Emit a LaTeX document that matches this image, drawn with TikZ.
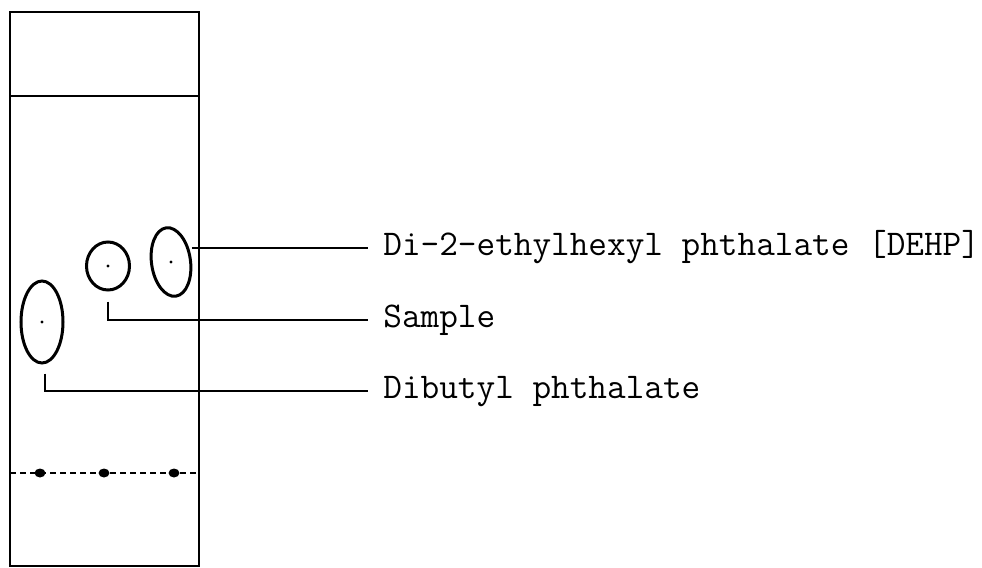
\documentclass[tikz,border=0pt]{standalone}
\usepackage{fontspec}
\usetikzlibrary{shapes.geometric,positioning}

\begin{document}
\begin{tikzpicture}[
    x=0.5pt,y=-0.5pt,
    plate/.style={draw=black,line width=1.1pt},
    spot/.style={ellipse,draw=black,line width=1.5pt,inner sep=0pt},
    origin/.style={ellipse,fill=black,inner sep=0pt,minimum width=5.5pt,minimum height=4.5pt},
    leader/.style={line width=1.1pt},
    labelstyle/.style={anchor=west,inner xsep=7.5pt,inner ysep=0pt,text height=7.5pt,text depth=0pt,font=\ttfamily\fontsize{18.1}{20}\selectfont}
]
\useasboundingbox (0,0) rectangle (982,568);

\draw[plate] (10,12) rectangle (199,566);
\draw[plate] (10,96) -- (199,96);
\draw[plate,dash pattern=on 3pt off 2pt] (10,473) -- (199,473);
\foreach \x/\n in {40/a,104/b,174/c}
    \node[origin] (start\n) at (\x,473) {};

\node[spot,minimum width=19.5pt,minimum height=34.5pt,rotate=8] (dehp) at (171,262) {};
\node[spot,minimum width=21.5pt,minimum height=24pt] (sample) at (108,266) {};
\node[spot,minimum width=21pt,minimum height=41pt] (dibutyl) at (42,322) {};
\fill (dehp.center) circle (0.8pt);
\fill (sample.center) circle (0.8pt);
\fill (dibutyl.center) circle (0.8pt);

\node[labelstyle] (lbldehp) at (368,248) {Di-2-ethylhexyl phthalate [DEHP]};
\node[labelstyle] (lblsample) at (368,320) {Sample};
\node[labelstyle] (lbldibutyl) at (368,391) {Dibutyl phthalate};

\draw[leader] (dehp.east |- lbldehp.west) -- (lbldehp.west);
\draw[leader,shorten <=5pt] (sample.south) |- (lblsample.west);
\draw[leader,shorten <=4.5pt] ([xshift=1.5pt]dibutyl.south) |- (lbldibutyl.west);

\end{tikzpicture}
\end{document}
